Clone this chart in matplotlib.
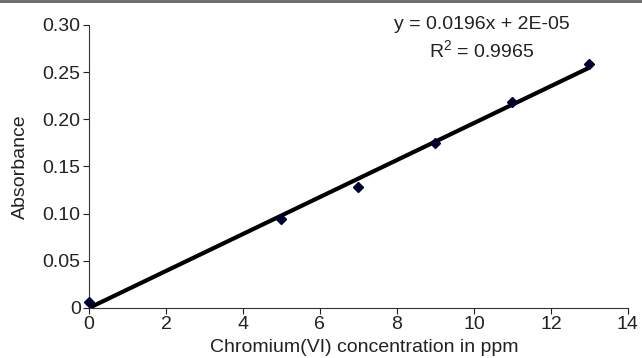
import numpy as np
import matplotlib.pyplot as plt
from matplotlib.lines import Line2D

plt.rcParams['font.family'] = ['Liberation Sans', 'DejaVu Sans']

# calibration data
conc = [0, 5, 7, 9, 11, 13]
absorb = [0.006, 0.094, 0.128, 0.175, 0.218, 0.259]
slope = 0.0196
intercept = 2e-05
r2 = 0.9965

x_ticks = [0, 2, 4, 6, 8, 10, 12, 14]
y_ticks = [0, 0.05, 0.10, 0.15, 0.20, 0.25, 0.30]
y_tick_labels = ['0', '0.05', '0.10', '0.15', '0.20', '0.25', '0.30']

fs = 14

fig = plt.figure(figsize=(6.42, 3.58), dpi=100)
ax = fig.add_axes([0.1386, 0.1397, 0.8394, 0.7905])

# trend line
fit_x = np.array([conc[0], conc[-1]])
ax.plot(fit_x, slope * fit_x + intercept, color='black', lw=3, solid_capstyle='butt', zorder=2)
ax.plot(conc, absorb, linestyle='none', marker='D', ms=5.5, color='#000033', zorder=3, clip_on=False)

ax.set_xlim(0, 14)
ax.set_ylim(0, 0.30)
ax.set_xticks(x_ticks)
ax.set_yticks(y_ticks)
ax.set_yticklabels(y_tick_labels)
ax.tick_params(labelsize=fs, colors='#222222', length=4, width=0.8, direction='out', pad=2)
for s in ['top', 'right']:
    ax.spines[s].set_visible(False)
for s in ['left', 'bottom']:
    ax.spines[s].set_linewidth(0.8)
    ax.spines[s].set_color('#333333')

ax.set_xlabel('Chromium(VI) concentration in ppm', fontsize=fs, color='#222222', va='center')
ax.set_ylabel('Absorbance', fontsize=fs, color='#222222', va='center')
ax.xaxis.set_label_coords(0.511, -0.141)
ax.yaxis.set_label_coords(-0.128, 0.5)

ax.text(0.729, 1.0, 'y = %.4fx + 2E-05' % slope, transform=ax.transAxes,
        ha='center', va='center', fontsize=fs, color='#222222')
ax.text(0.729, 0.912, '$\\mathregular{R^2}$ = %.4f' % r2, transform=ax.transAxes,
        ha='center', va='center', fontsize=fs, color='#222222')

# grey rule at the very top
fig.add_artist(Line2D([0, 1], [0.997, 0.997], transform=fig.transFigure, color='#666666', lw=2))

fig.savefig('out.png', dpi=100)
